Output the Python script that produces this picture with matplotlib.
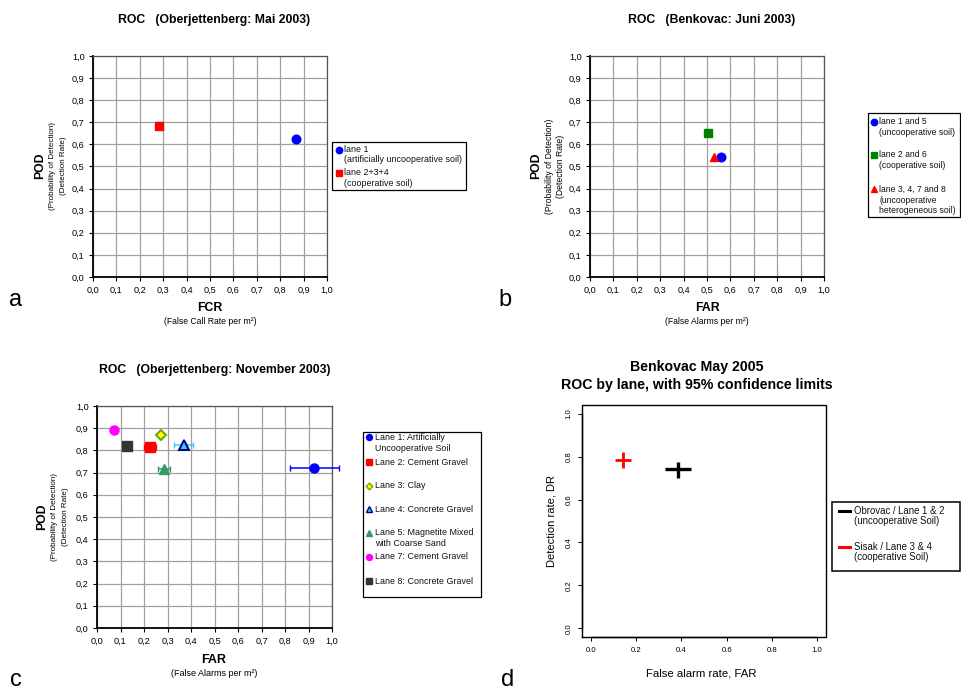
import matplotlib
matplotlib.use("Agg")
import matplotlib.pyplot as plt
from matplotlib.lines import Line2D
from matplotlib.patches import Rectangle
from matplotlib.ticker import FuncFormatter, MultipleLocator

plt.rcParams['font.family'] = ['Liberation Sans', 'DejaVu Sans']

W, H = 961, 692

# ---------------- data ----------------
# panel a
a_labels = ["lane 1\n(artificially uncooperative soil)", "lane 2+3+4\n(cooperative soil)"]
a_fcr = [0.869, 0.282]
a_pod = [0.625, 0.683]

# panel b
b_labels = ["lane 1 and 5\n(uncooperative soil)", "lane 2 and 6\n(cooperative soil)",
            "lane 3, 4, 7 and 8\n(uncooperative\nheterogeneous soil)"]
b_far = [0.560, 0.505, 0.528]
b_pod = [0.543, 0.650, 0.541]

# panel c
c_labels = ["Lane 1: Artificially\nUncooperative Soil", "Lane 2: Cement Gravel", "Lane 3: Clay",
            "Lane 4: Concrete Gravel", "Lane 5: Magnetite Mixed\nwith Coarse Sand",
            "Lane 7: Cement Gravel", "Lane 8: Concrete Gravel"]
c_far = [0.925, 0.224, 0.271, 0.369, 0.286, 0.071, 0.128]
c_pod = [0.721, 0.815, 0.868, 0.826, 0.715, 0.890, 0.822]
c_far_err = [0.105, 0.025, 0.0, 0.04, 0.026, 0.0, 0.0]

# panel d
d_labels = ["Obrovac / Lane 1 & 2\n(uncooperative Soil)", "Sisak / Lane 3 & 4\n(cooperative Soil)"]
d_far = [0.383, 0.140]
d_far_lo = [0.329, 0.108]
d_far_hi = [0.444, 0.177]
d_dr = [0.740, 0.783]
d_dr_lo = [0.699, 0.745]
d_dr_hi = [0.776, 0.822]

fig = plt.figure(figsize=(W / 100, H / 100), dpi=100)


def rect(x0, y0, x1, y1):
    return [x0 / W, 1 - y1 / H, (x1 - x0) / W, (y1 - y0) / H]


def fx(x):
    return x / W


def fy(y):
    return 1 - y / H


comma = FuncFormatter(lambda v, p: ("%.1f" % v).replace(".", ","))


def excel_axes(r):
    ax = fig.add_axes(r)
    ax.set_xlim(0, 1)
    ax.set_ylim(0, 1)
    ax.xaxis.set_major_locator(MultipleLocator(0.1))
    ax.yaxis.set_major_locator(MultipleLocator(0.1))
    ax.xaxis.set_major_formatter(comma)
    ax.yaxis.set_major_formatter(comma)
    ax.grid(True, color='#a0a0a0', lw=0.9)
    ax.set_axisbelow(True)
    for s in ['top', 'right']:
        ax.spines[s].set_color('#555555')
        ax.spines[s].set_linewidth(0.9)
    for s in ['left', 'bottom']:
        ax.spines[s].set_color('black')
        ax.spines[s].set_linewidth(1.3)
    ax.tick_params(labelsize=6.6, length=3, width=0.8, pad=3, colors='black')
    return ax


def manual_legend(box, entries, mx, tx, fs, lw=0.9):
    x0, y0, x1, y1 = box
    fig.add_artist(Rectangle((fx(x0), fy(y1)), (x1 - x0) / W, (y1 - y0) / H,
                             transform=fig.transFigure, fc='white', ec='black', lw=lw, zorder=10))
    for handle, label, ys in entries:
        kind = handle.pop('kind', 'marker')
        if kind == 'marker':
            fig.add_artist(Line2D([fx(mx)], [fy(ys[0])], transform=fig.transFigure, ls='none',
                                  zorder=11, **handle))
        else:
            fig.add_artist(Line2D([fx(mx[0]), fx(mx[1])], [fy(ys[0]), fy(ys[0])],
                                  transform=fig.transFigure, zorder=11, **handle))
        for line, y in zip(label.split("\n"), ys):
            fig.text(fx(tx), fy(y), line, ha='left', va='center', fontsize=fs, zorder=12,
                     color='#111111')


def ylabels(xs, yc, fs_small):
    fig.text(fx(xs[0]), fy(yc), "POD", ha='center', va='center', fontsize=8.8,
             fontweight='bold', rotation=90)
    fig.text(fx(xs[1]), fy(yc), "(Probability of Detection)", ha='center', va='center',
             fontsize=fs_small, rotation=90)
    fig.text(fx(xs[2]), fy(yc), "(Detection Rate)", ha='center', va='center',
             fontsize=fs_small, rotation=90)


# ---------------- panel a ----------------
axa = excel_axes(rect(93, 56, 327, 277))
a_style = [dict(marker='o', color='#0000ff'), dict(marker='s', color='#ff0000')]
for x, y, st in zip(a_fcr, a_pod, a_style):
    axa.plot([x], [y], ls='none', marker=st['marker'], ms=6.2, mfc=st['color'], mec=st['color'])
manual_legend((332, 142, 466, 190),
              [(dict(marker=a_style[0]['marker'], ms=4.6, color=a_style[0]['color']), a_labels[0], [149.5, 160]),
               (dict(marker=a_style[1]['marker'], ms=4.6, color=a_style[1]['color']), a_labels[1], [172.5, 183])],
              338.5, 344, 6.4)
fig.text(fx(214), fy(20), "ROC   (Oberjettenberg: Mai 2003)", ha='center', va='center',
         fontsize=8.8, fontweight='bold')
fig.text(fx(210), fy(308), "FCR", ha='center', va='center', fontsize=8.8, fontweight='bold')
fig.text(fx(210), fy(322), "(False Call Rate per m²)", ha='center', va='center', fontsize=6.2)
ylabels((40.5, 52.5, 63.5), 166, 5.8)
fig.text(fx(16), fy(300), "a", ha='center', va='center', fontsize=17)

# ---------------- panel b ----------------
axb = excel_axes(rect(590, 56, 824, 277))
b_style = [dict(marker='o', color='#0000ff'), dict(marker='s', color='#008000'),
           dict(marker='^', color='#ff0000')]
for x, y, st in zip(b_far, b_pod, b_style):
    axb.plot([x], [y], ls='none', marker=st['marker'], ms=6.2, mfc=st['color'], mec=st['color'])
manual_legend((868, 113, 960, 217),
              [(dict(marker=b_style[0]['marker'], ms=4.6, color=b_style[0]['color']), b_labels[0], [121.5, 132.5]),
               (dict(marker=b_style[1]['marker'], ms=4.6, color=b_style[1]['color']), b_labels[1], [154.5, 165.5]),
               (dict(marker=b_style[2]['marker'], ms=4.6, color=b_style[2]['color']), b_labels[2], [189.3, 200.3, 211])],
              874, 879, 6.2)
fig.text(fx(712), fy(20), "ROC   (Benkovac: Juni 2003)", ha='center', va='center',
         fontsize=8.8, fontweight='bold')
fig.text(fx(707), fy(308), "FAR", ha='center', va='center', fontsize=8.8, fontweight='bold')
fig.text(fx(707), fy(322), "(False Alarms per m²)", ha='center', va='center', fontsize=6.2)
ylabels((536, 549.5, 560.5), 166, 6.2)
fig.text(fx(505), fy(300), "b", ha='center', va='center', fontsize=17)

# ---------------- panel c ----------------
axc = excel_axes(rect(97, 406, 332, 628))
c_style = [
    dict(marker='o', fc='#0000ff', ec='#0000ff', err='#0000ff'),
    dict(marker='s', fc='#ff0000', ec='#ff0000', err='#ff0000'),
    dict(marker='D', fc='#ffff00', ec='#66aa00', err='#66aa00'),
    dict(marker='^', fc='#33ccff', ec='#000080', err='#33ccff'),
    dict(marker='^', fc='#339966', ec='#339966', err='#339966'),
    dict(marker='o', fc='#ff00ff', ec='#ff00ff', err='#ff00ff'),
    dict(marker='s', fc='#333333', ec='#333333', err='#333333'),
]
for x, y, e, st in zip(c_far, c_pod, c_far_err, c_style):
    if e > 0:
        axc.errorbar([x], [y], xerr=[e], fmt='none', ecolor=st['err'], elinewidth=1.1,
                     capsize=2.5, capthick=1, clip_on=False, zorder=3)
    ms = 5.5 if st['marker'] == 'D' else 6.5
    axc.plot([x], [y], ls='none', marker=st['marker'], ms=ms, mfc=st['fc'], mec=st['ec'],
             mew=1.4 if st['fc'] != st['ec'] else 1, zorder=4)
c_ys = [[437.3, 448.7], [462.3], [485.7], [509.3], [532.7, 544], [556.7], [581]]
c_entries = []
for st, lab, ys in zip(c_style, c_labels, c_ys):
    c_entries.append((dict(marker=st['marker'], ms=4.3 if st['marker'] != 'D' else 3.4,
                           mfc=st['fc'], mec=st['ec'], mew=1), lab, ys))
manual_legend((363, 432, 481, 597), c_entries, 369, 375, 6.4)
fig.text(fx(215), fy(370), "ROC   (Oberjettenberg: November 2003)", ha='center', va='center',
         fontsize=8.8, fontweight='bold')
fig.text(fx(214), fy(660), "FAR", ha='center', va='center', fontsize=9, fontweight='bold')
fig.text(fx(214), fy(673), "(False Alarms per m²)", ha='center', va='center', fontsize=6.5)
ylabels((42, 54, 65.5), 517, 5.8)
fig.text(fx(16), fy(680), "c", ha='center', va='center', fontsize=17)

# ---------------- panel d ----------------
axd = fig.add_axes(rect(582, 405, 826, 637))
axd.set_xlim(-0.04, 1.04)
axd.set_ylim(-0.04, 1.04)
axd.set_xticks([0.0, 0.2, 0.4, 0.6, 0.8, 1.0])
axd.set_yticks([0.0, 0.2, 0.4, 0.6, 0.8, 1.0])
axd.xaxis.set_major_formatter(FuncFormatter(lambda v, p: "%.1f" % v))
axd.yaxis.set_major_formatter(FuncFormatter(lambda v, p: "%.1f" % v))
axd.tick_params(labelsize=5.6, length=3, width=0.7, pad=4)
for t in axd.get_yticklabels():
    t.set_rotation(90)
    t.set_va('center')
for s in axd.spines.values():
    s.set_linewidth(1.0)
axd.spines['bottom'].set_bounds(0, 1)
axd.spines['left'].set_bounds(0, 1)
axd.spines['top'].set_visible(False)
axd.spines['right'].set_visible(False)
# R-style box
axd.plot([-0.04, 1.04, 1.04, -0.04, -0.04], [-0.04, -0.04, 1.04, 1.04, -0.04],
         color='black', lw=1.0, clip_on=False, zorder=5)
d_colors = ['black', '#ff0000']
d_lw = [2.4, 2.0]
for x, xl, xh, y, yl, yh, c, lw in zip(d_far, d_far_lo, d_far_hi, d_dr, d_dr_lo, d_dr_hi, d_colors, d_lw):
    axd.plot([xl, xh], [y, y], color=c, lw=lw, solid_capstyle='butt')
    axd.plot([x, x], [yl, yh], color=c, lw=lw, solid_capstyle='butt')
manual_legend((832, 502, 960, 571),
              [(dict(kind='line', color=d_colors[0], lw=2.2), d_labels[0], [511, 521]),
               (dict(kind='line', color=d_colors[1], lw=2.2), d_labels[1], [546.5, 556.5])],
              (839, 849.5), 853.5, 6.9, lw=1.1)
fig.text(fx(697), fy(367), "Benkovac May 2005", ha='center', va='center',
         fontsize=10.2, fontweight='bold')
fig.text(fx(697), fy(385), "ROC by lane, with 95% confidence limits", ha='center', va='center',
         fontsize=10.2, fontweight='bold')
fig.text(fx(701), fy(674), "False alarm rate, FAR", ha='center', va='center', fontsize=8.2)
fig.text(fx(551), fy(521), "Detection rate, DR", ha='center', va='center', fontsize=8.0, rotation=90)
fig.text(fx(508), fy(680), "d", ha='center', va='center', fontsize=17)

fig.savefig("out.png", dpi=100)
